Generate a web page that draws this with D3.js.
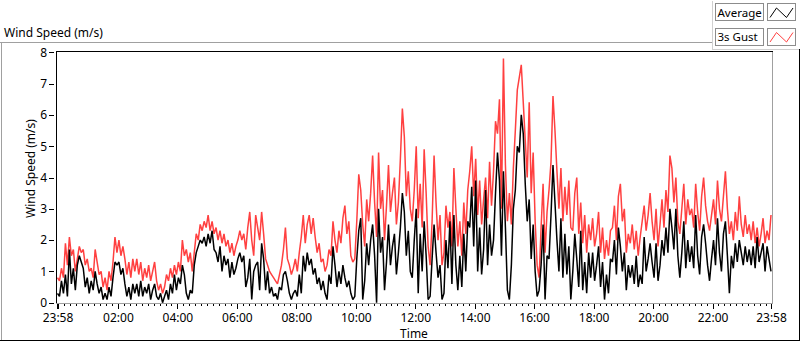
<!DOCTYPE html>
<html><head><meta charset="utf-8">
<script src="https://cdn.jsdelivr.net/npm/d3@7"></script>
<style>
body{margin:0;background:#fff;}
svg{display:block;}
text{font-family:"Noto Sans",sans-serif;font-size:12px;fill:#000;}
</style>
</head><body>
<svg id="chart" width="800" height="342"></svg>
<script>
// ---- data ----
const startTime = "2020-01-01T23:58:00";
const stepMinutes = 4;
const seriesNames = ["Average", "3s Gust"];
const seriesColors = ["#000000", "#ff4040"];
const yTicks = [0, 1, 2, 3, 4, 5, 6, 7, 8];
const xTickLabels = ["23:58","02:00","04:00","06:00","08:00","10:00","12:00","14:00","16:00","18:00","20:00","22:00","23:58"];

const average = [
0.3,0.2,0.7,0.3,0.9,0.2,1.7,0.6,1.1,0.4,
1.2,1.5,1.3,1.1,0.5,0.8,0.3,0.7,0.4,1.0,
0.6,0.3,0.5,0.1,0.3,0.1,0.5,0.2,0.8,1.3,
1.2,1.3,0.9,1.1,0.6,0.2,0.5,0.1,0.6,0.3,
0.6,0.2,0.7,0.2,0.5,0.3,0.6,0.1,0.4,0.6,
0.2,0.1,0.3,0.0,0.2,0.4,0.1,0.6,0.3,0.9,
0.4,0.8,0.6,1.2,0.9,0.3,0.1,0.4,0.3,1.2,
1.6,1.8,2.0,1.9,2.1,1.8,2.2,1.9,2.3,1.7,
1.6,1.3,1.8,1.0,1.5,1.2,1.4,0.8,1.3,0.9,
1.1,1.4,1.6,1.3,1.5,0.5,0.8,1.4,0.1,1.0,
1.2,1.3,0.4,1.9,1.4,0.4,1.0,0.3,0.5,0.2,
0.3,0.1,0.5,0.4,0.9,1.0,0.7,0.3,0.1,0.3,
0.4,0.2,0.9,0.3,1.5,1.0,1.6,1.2,1.4,0.9,
1.1,0.6,0.8,0.4,0.7,0.3,0.1,0.9,0.6,1.8,
1.2,0.5,1.0,0.6,1.2,0.8,0.5,0.7,0.3,0.1,
0.2,1.4,2.3,2.7,0.1,0.7,1.9,1.2,2.0,2.5,
1.5,0.0,3.0,1.6,2.1,0.4,1.3,2.5,1.2,1.8,
2.2,0.9,1.6,2.4,3.5,2.9,1.5,2.3,1.0,0.8,
2.0,3.0,0.3,2.2,1.0,2.6,1.5,0.1,0.2,1.4,
2.5,1.6,0.8,1.2,0.1,0.3,2.0,1.1,2.6,0.6,
2.8,1.2,0.4,1.5,0.5,2.2,1.0,2.6,2.4,3.7,
1.8,3.9,1.0,2.4,0.9,1.7,3.6,1.2,2.5,1.5,
2.0,3.5,4.8,3.9,1.5,4.2,2.4,0.4,0.1,1.2,
3.0,3.6,5.0,4.8,6.0,5.4,3.8,2.6,3.3,1.4,
2.5,1.0,0.2,0.4,1.2,2.5,0.1,1.5,1.4,2.8,
4.4,3.2,2.0,1.0,2.7,0.8,2.2,0.9,1.8,0.1,
1.0,2.2,1.4,0.5,2.3,0.4,1.3,0.3,1.6,0.8,
1.6,0.7,1.2,1.8,0.5,1.3,0.1,0.9,0.3,1.4,
1.3,2.0,0.9,2.4,1.8,1.0,1.6,0.4,1.2,0.8,
1.2,0.6,1.5,0.5,0.9,0.6,2.1,1.0,1.4,1.9,
1.3,0.8,1.9,0.7,1.2,2.0,1.5,2.4,1.6,3.0,
2.4,1.7,3.0,1.5,0.8,1.6,2.6,1.1,2.0,1.3,
1.8,1.1,2.8,1.5,0.9,2.1,2.5,1.9,1.2,0.7,
1.4,2.0,1.2,2.7,1.6,1.0,2.2,2.6,1.5,0.3,
1.5,1.1,1.9,1.3,2.0,1.6,1.2,1.8,1.3,1.7,
1.2,1.8,1.1,2.1,1.3,1.6,1.9,1.0,1.8,1.4,1.0
];

const gust = [
0.8,0.7,1.1,0.8,1.9,1.2,2.1,1.5,1.7,1.0,
1.4,1.8,1.6,1.7,1.2,1.4,1.0,1.1,0.8,1.7,
1.3,0.9,1.0,0.5,0.8,0.4,1.0,0.7,1.3,2.1,
1.6,2.0,1.5,1.8,1.4,0.9,1.3,0.8,1.4,1.0,
1.4,0.9,1.3,0.7,1.1,0.8,1.2,0.7,1.0,1.3,
0.7,0.4,0.6,0.3,0.5,0.9,0.7,1.1,0.8,1.2,
0.9,1.3,1.0,2.0,1.5,1.7,1.3,1.6,1.0,1.6,
2.2,2.0,2.5,2.3,2.6,2.4,2.8,2.3,2.6,2.2,
2.4,2.0,2.3,1.9,2.2,1.8,2.0,1.6,1.9,1.5,
1.8,2.0,2.3,2.0,2.2,1.7,2.4,2.9,2.0,1.5,
2.8,2.4,2.0,2.9,2.2,1.4,1.2,1.0,0.9,0.8,
0.7,0.6,0.9,1.2,1.7,2.4,1.4,1.2,0.9,1.1,
1.4,1.0,1.6,2.1,2.8,1.9,2.5,2.8,2.2,2.7,
2.1,1.6,1.9,1.3,1.4,1.0,1.2,1.7,1.5,2.6,
2.0,1.6,2.3,1.9,2.7,3.1,2.2,2.6,1.5,1.3,
1.4,2.6,4.1,3.6,2.5,1.8,3.3,2.6,3.5,4.7,
3.2,2.1,4.8,3.0,3.6,2.0,3.1,4.4,2.9,3.5,
4.0,2.5,3.2,4.6,6.2,5.3,3.4,4.2,3.0,2.6,
3.6,5.0,2.7,3.8,2.4,4.9,3.5,1.8,1.2,2.6,
4.7,3.2,2.0,2.8,1.2,1.6,3.1,2.4,2.9,1.8,
4.3,3.0,1.8,2.6,1.5,3.2,2.2,3.6,4.2,5.0,
3.4,4.6,2.8,3.9,2.5,3.3,4.0,2.7,4.5,3.1,
4.2,5.8,5.4,6.5,3.0,7.8,4.4,2.6,3.5,2.5,
4.3,5.5,6.8,7.2,7.6,6.4,5.2,4.0,6.4,3.5,
4.8,2.6,1.2,0.8,2.4,3.8,1.6,2.9,3.6,4.5,
6.6,5.5,4.2,3.0,4.3,2.6,3.7,2.8,3.9,2.4,
2.3,3.5,4.0,2.2,3.2,1.9,2.8,1.6,2.5,2.0,
2.7,1.8,2.2,2.9,1.6,2.4,1.4,2.0,1.5,2.3,
2.4,3.1,2.0,3.4,3.8,2.6,3.0,1.6,2.2,1.9,
2.5,1.7,2.3,1.5,2.1,2.6,3.1,2.3,2.8,3.5,
2.6,2.0,3.0,1.8,2.5,3.3,2.4,3.6,2.9,4.7,
4.3,3.2,4.0,2.6,2.2,3.0,3.8,2.5,3.3,2.8,
3.0,2.4,3.8,2.9,2.3,3.4,4.0,3.1,2.6,2.3,
2.8,3.3,2.5,3.9,3.0,2.6,3.4,4.2,3.0,2.2,
2.6,2.0,2.9,2.3,3.4,2.5,2.1,2.8,2.2,2.5,
2.0,2.6,1.9,2.4,1.8,2.2,2.7,1.9,2.3,2.0,2.8
];

// ---- chart ----
const svg = d3.select("#chart");
const t0 = new Date(startTime);
const t1 = d3.timeDay.offset(t0, 1);
const timeOf = i => d3.timeMinute.offset(t0, i * stepMinutes);

const plot = {left: 56, top: 51, right: 772, bottom: 303};
const x = d3.scaleTime().domain([t0, t1]).range([57.5, 771]);
const y = d3.scaleLinear().domain([0, 8]).range([302.7, 52.3]);

// outer frame
const frame = svg.append("g").attr("shape-rendering", "crispEdges");
frame.append("line").attr("x1", 0).attr("x2", 712).attr("y1", 42.5).attr("y2", 42.5).attr("stroke", "#a0a0a0");
frame.append("line").attr("x1", 712.5).attr("x2", 712.5).attr("y1", 1).attr("y2", 49).attr("stroke", "#d0d0d0");
frame.append("line").attr("x1", 712).attr("x2", 799).attr("y1", 49.5).attr("y2", 49.5).attr("stroke", "#d0d0d0");
frame.append("line").attr("x1", 1.5).attr("x2", 1.5).attr("y1", 42).attr("y2", 341).attr("stroke", "#a0a0a0");
frame.append("line").attr("x1", 0).attr("x2", 800).attr("y1", 340.5).attr("y2", 340.5).attr("stroke", "#000");
frame.append("line").attr("x1", 799.5).attr("x2", 799.5).attr("y1", 49).attr("y2", 341).attr("stroke", "#000");

// title
svg.append("text").attr("x", 4).attr("y", 37).text("Wind Speed (m/s)");

// plot background + clip
svg.append("rect").attr("x", plot.left).attr("y", plot.top)
  .attr("width", plot.right - plot.left).attr("height", plot.bottom - plot.top).attr("fill", "#fff");
svg.append("clipPath").attr("id", "clip").append("rect")
  .attr("x", plot.left + 1).attr("y", plot.top + 1)
  .attr("width", plot.right - plot.left - 1).attr("height", plot.bottom - plot.top - 1);

// series
const line = d3.line().x((d, i) => x(timeOf(i))).y(d => y(d));
const lines = svg.append("g").attr("clip-path", "url(#clip)");
[[gust, seriesColors[1]], [average, seriesColors[0]]].forEach(([vals, col]) => {
  lines.append("path").datum(vals).attr("d", line)
    .attr("fill", "none").attr("stroke", col).attr("stroke-width", 1.5)
    .attr("stroke-linejoin", "bevel");
});

// plot frame
const pf = svg.append("g").attr("shape-rendering", "crispEdges");
pf.append("line").attr("x1", plot.left).attr("x2", plot.right + 1).attr("y1", plot.top + 0.5).attr("y2", plot.top + 0.5).attr("stroke", "#000");
pf.append("line").attr("x1", plot.left + 0.5).attr("x2", plot.left + 0.5).attr("y1", plot.top).attr("y2", plot.bottom).attr("stroke", "#000");
pf.append("line").attr("x1", plot.right + 0.5).attr("x2", plot.right + 0.5).attr("y1", plot.top + 1).attr("y2", plot.bottom + 1).attr("stroke", "#a0a0a0");
pf.append("line").attr("x1", plot.left).attr("x2", plot.right + 1).attr("y1", plot.bottom + 0.5).attr("y2", plot.bottom + 0.5).attr("stroke", "#a0a0a0");

// y axis
const yAxis = svg.append("g").attr("transform", "translate(53.5,0)")
  .call(d3.axisLeft(y).tickValues(yTicks).tickSize(5).tickPadding(1.5).tickFormat(d3.format("d")));
yAxis.select(".domain").remove();
yAxis.selectAll("line").attr("stroke", "#000").attr("shape-rendering", "crispEdges");
yAxis.selectAll("text").style("font-family", "'Noto Sans',sans-serif").style("font-size", "12px").attr("fill", "#000");

// x axis: minor ticks every 12 min aligned to clock, major ticks at labels
const majorTicks = [t0].concat(d3.timeHour.every(2).range(d3.timeHour.offset(t0, 1), t1)).concat([t1]);
const minorTicks = d3.timeMinute.every(12).range(t0, t1)
  .filter(d => majorTicks.every(m => Math.abs(m - d) > 3 * 60000));
const xMinor = svg.append("g").attr("transform", "translate(0,304)")
  .call(d3.axisBottom(x).tickValues(minorTicks).tickSize(2).tickFormat(""));
xMinor.select(".domain").remove();
xMinor.selectAll("line").attr("stroke", "#000").attr("shape-rendering", "crispEdges");

const xAxis = svg.append("g").attr("transform", "translate(0,304)")
  .call(d3.axisBottom(x).tickValues(majorTicks).tickSize(5).tickFormat((d, i) => xTickLabels[i]));
xAxis.select(".domain").remove();
xAxis.selectAll("line").attr("stroke", "#000").attr("shape-rendering", "crispEdges");
xAxis.select(".tick line").attr("stroke-width", 2);
xAxis.selectAll("text").attr("y", 18).attr("dy", 0)
  .style("font-family", "'Noto Sans',sans-serif").style("font-size", "12px").attr("fill", "#000");

// axis titles
svg.append("text").attr("x", (plot.left + plot.right) / 2).attr("y", 338).attr("text-anchor", "middle").text("Time");
svg.append("text").attr("transform", "translate(34.5,168.5) rotate(-90)").attr("text-anchor", "middle").text("Wind Speed (m/s)");

// legend
const legend = svg.append("g");
seriesNames.forEach((name, i) => {
  const g = legend.append("g").attr("transform", `translate(715,${3 + i * 24.5})`);
  g.append("rect").attr("x", 0.5).attr("y", 0.5).attr("width", 48).attr("height", 17)
    .attr("fill", "#fff").attr("stroke", "#8c8c8c").attr("shape-rendering", "crispEdges");
  g.append("text").attr("x", 2.5).attr("y", 13.5).style("font-size", "11.5px").text(name);
  g.append("rect").attr("x", 52.5).attr("y", 0.5).attr("width", 28).attr("height", 17)
    .attr("fill", "#fff").attr("stroke", "#8c8c8c").attr("shape-rendering", "crispEdges");
  g.append("polyline")
    .attr("points", [[55, 14.5], [61.5, 5], [71.5, 14.5], [78, 5]].map(p => p.join(",")).join(" "))
    .attr("fill", "none").attr("stroke", seriesColors[i]).attr("stroke-width", 1);
});
</script>
</body></html>
